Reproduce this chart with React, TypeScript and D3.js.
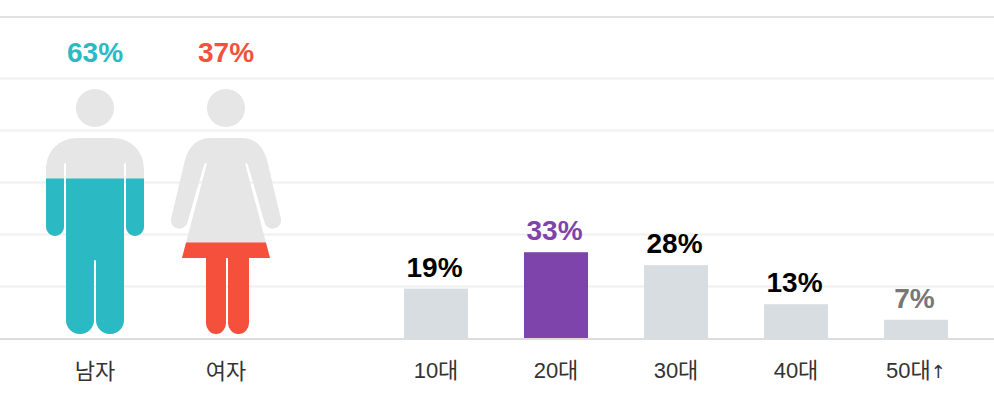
import React from "react";
import * as d3 from "d3";

const W = 994, H = 416;
const genderLabels = ["남자", "여자"];
const genderValues = [63, 37];
const genderColors = ["#2bb9c3", "#f4503c"];
const ageLabels = ["10대", "20대", "30대", "40대", "50대↑"];
const ageValues = [19, 33, 28, 13, 7];
const ageBarColors = ["#d8dde1", "#7f44ab", "#d8dde1", "#d8dde1", "#d8dde1"];
const ageTextColors = ["#000000", "#7f44ab", "#000000", "#000000", "#777777"];
const gridTicks = [20, 40, 60, 80, 100];

const FONT = "'Liberation Sans', 'Noto Sans CJK KR', sans-serif";

const y = d3.scaleLinear().domain([0, 100]).range([338, 78]);
const xAge = d3.scaleBand<string>().domain(ageLabels).range([376, 976]).paddingInner(0.4666).paddingOuter(0.2333);
const iconY = d3.scaleLinear().domain([0, 100]).range([334, 87]);
const xGender = d3.scalePoint<string>().domain(genderLabels).range([95, 226]);

const malePaths = [
  "M95 89a19 19 0 1 0 .01 0Z",
  "M78 138H112C131 138 144 151 144 170V227A9 9 0 0 1 126 227V165Q126 163 125 163Q124 163 124 165V320A14 14 0 0 1 96 320V261A1 1 0 0 0 94 261V320A14 14 0 0 1 66 320V165Q66 163 65 163Q64 163 64 165V227A9 9 0 0 1 46 227V170C46 151 59 138 78 138Z",
];

const femalePaths = [
  "M226 89a19 19 0 1 0 .01 0Z",
  "M211 138H241C255 138 263 146 267 160L281 219A8.500 8.500 0 0 1 265 224L248 165Q247 163 246 163Q245 163 245.500 165L270 258H249V323A10.500 11 0 0 1 228 323V258H226V323A10 11 0 0 1 206 323V258H182L206.500 165Q207 163 206 163Q205 163 204 165L187 224A8.500 8.500 0 0 1 171 219L185 160C189 146 197 138 211 138Z",
];

export default function App() {
  const band = xAge.bandwidth();
  return (
    <svg width={W} height={H} style={{ position: "absolute", left: 0, top: 0, background: "#fff" }} fontFamily={FONT}>
      <line x1={0} x2={W} y1={17} y2={17} stroke="#e2e2e2" strokeWidth={2} />
      {gridTicks.map((t) => (
        <line key={t} x1={0} x2={W} y1={y(t) + 0.5} y2={y(t) + 0.5} stroke="#f0f0f0" strokeWidth={2} />
      ))}

      <defs>
        {genderLabels.map((g, i) => (
          <clipPath id={`fill-${i}`} key={g}>
            <rect x={xGender(g)! - 70} width={140} y={iconY(genderValues[i])} height={340 - iconY(genderValues[i])} />
          </clipPath>
        ))}
      </defs>

      {[malePaths, femalePaths].map((paths, i) => (
        <g key={i}>
          {paths.map((d, k) => <path key={k} d={d} fill="#e6e6e6" />)}
          <g clipPath={`url(#fill-${i})`}>
            {paths.map((d, k) => <path key={k} d={d} fill={genderColors[i]} />)}
          </g>
        </g>
      ))}

      {ageLabels.map((a, i) => (
        <rect key={a} x={xAge(a)} width={band} y={y(ageValues[i])} height={y(0) - y(ageValues[i])} fill={ageBarColors[i]} />
      ))}

      <line x1={0} x2={W} y1={339} y2={339} stroke="#dcdcdc" strokeWidth={2} />

      {genderLabels.map((g, i) => (
        <g key={g} textAnchor="middle">
          <text x={xGender(g)} y={62} fontSize={28} fontWeight={700} fill={genderColors[i]}>{genderValues[i]}%</text>
          <text x={xGender(g)} y={379} fontSize={22} fill="#333">{g}</text>
        </g>
      ))}
      {ageLabels.map((a, i) => {
        const [main, rest] = a.split("↑");
        return (
          <g key={a} textAnchor="middle">
            <text x={xAge(a)! + band / 2 - 1.5} y={y(ageValues[i]) - 12} fontSize={28} fontWeight={700} fill={ageTextColors[i]}>{ageValues[i]}%</text>
            <text x={xAge(a)! + band / 2} y={378} fontSize={22} fill="#333">
              {main}
              {rest !== undefined && <tspan fontFamily="'DejaVu Sans'" fontSize={18}>↑</tspan>}
            </text>
          </g>
        );
      })}
    </svg>
  );
}
